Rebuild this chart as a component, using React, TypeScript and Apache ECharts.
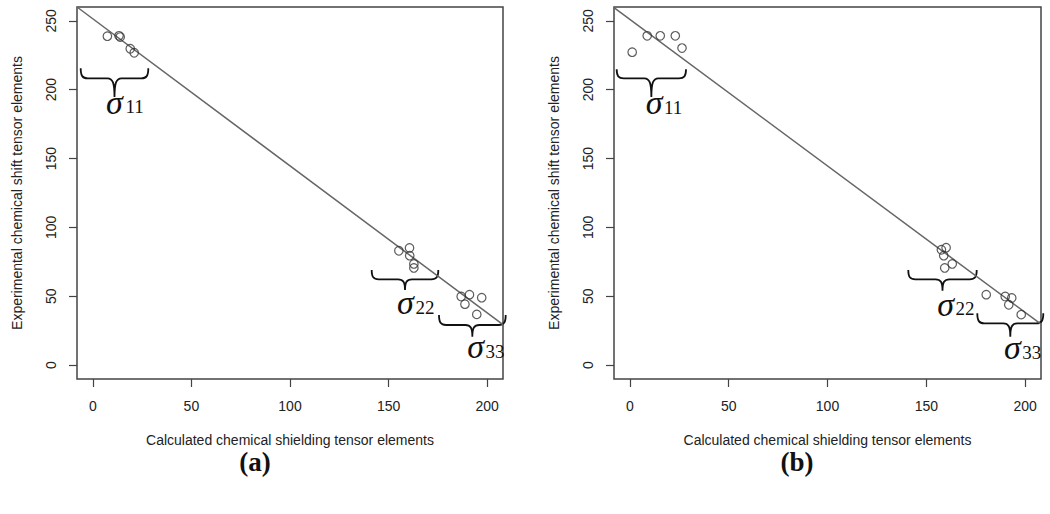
import React, { useEffect, useRef } from "react";
import * as echarts from "echarts";

// ---- data ----
const xTicks = [0, 50, 100, 150, 200];
const yTicks = [0, 50, 100, 150, 200, 250];

// panel (a)
const calcA = [7.4, 13.3, 13.9, 19.0, 21.0, 155.2, 160.6, 160.7, 162.8, 162.8, 186.8, 191.0, 188.7, 197.2, 194.7];
const exptA = [238.8, 239.1, 238.2, 229.7, 226.8, 83.1, 85.1, 79.5, 73.5, 70.6, 49.9, 51.2, 44.3, 49.0, 36.9];
// panel (b)
const calcB = [1.2, 8.8, 15.4, 23.0, 26.4, 157.6, 160.0, 158.8, 163.1, 159.3, 180.3, 189.9, 193.2, 191.7, 198.0];
const exptB = [227.2, 239.1, 239.1, 239.1, 230.2, 83.8, 85.3, 79.5, 73.5, 70.6, 51.2, 49.9, 48.8, 43.9, 36.7];

// fitted lines (end points in data units)
const fitX = [-8, 208];
const fitYA = [260, 29.4];
const fitYB = [259.5, 29.8];

const xName = "Calculated chemical shielding tensor elements";
const yName = "Experimental chemical shift tensor elements";
const panelLabels = ["(a)", "(b)"];
const groupLabels = ["11", "22", "33", "11", "22", "33"];

// ---- layout ----
const braceLayout = [
  { x0: 80.7, x1: 148.3, top: 68.3, mid: 78.3, tipY: 97, sx: 106, subx: 125.5, base: 112.5 },
  { x0: 371.7, x1: 438.3, top: 270, mid: 279.3, tipY: 290, sx: 397, subx: 415.5, base: 313 },
  { x0: 439, x1: 505.7, top: 315, mid: 325, tipY: 336.7, sx: 467.3, subx: 485.5, base: 357 },
  { x0: 616.7, x1: 686, top: 69.3, mid: 78.3, tipY: 97, sx: 645.7, subx: 664, base: 113 },
  { x0: 908.3, x1: 976.7, top: 270, mid: 279.3, tipY: 290.7, sx: 937.3, subx: 955.5, base: 314.5 },
  { x0: 977.3, x1: 1043.3, top: 313.3, mid: 323.3, tipY: 336.7, sx: 1004, subx: 1022.3, base: 358 },
];

function braceD(w: number, up: number, down: number) {
  const tx = w / 2;
  const r = 7;
  const b = up + down;
  return (
    `M0,0 C0,${up * 0.75} ${r * 0.25},${up} ${r},${up} ` +
    `L${tx - r},${up} C${tx - r * 0.25},${up} ${tx},${up + down * 0.25} ${tx},${b} ` +
    `C${tx},${up + down * 0.25} ${tx + r * 0.25},${up} ${tx + r},${up} ` +
    `L${w - r},${up} C${w - r * 0.25},${up} ${w},${up * 0.75} ${w},0`
  );
}

braceLayout.forEach((b, i) => {
  echarts.graphic.registerShape(
    "brace" + i,
    echarts.graphic.extendPath(braceD(b.x1 - b.x0, b.mid - b.top, b.tipY - b.mid), {})
  );
});

const sans = "'Liberation Sans', Arial, Helvetica, sans-serif";
const serif = "'Liberation Serif', 'Times New Roman', serif";

function pairs(xs: number[], ys: number[]) {
  return xs.map((x, i) => [x, ys[i]]);
}

export default function App() {
  const ref = useRef<HTMLDivElement>(null);
  useEffect(() => {
    if (!ref.current) return;
    const chart = echarts.init(ref.current, undefined, { renderer: "svg" });
    const grids = [
      { left: 77, top: 7, width: 426, height: 372 },
      { left: 614, top: 7, width: 427, height: 372 },
    ];
    const xAxes = grids.map((_, i) => ({
      gridIndex: i,
      type: "value",
      position: "bottom",
      min: -8,
      max: 208,
      name: xName,
      nameLocation: "middle",
      nameGap: 54,
      nameTextStyle: { fontSize: 14, color: "#222", fontFamily: sans },
      axisLine: { show: false, onZero: false },
      axisTick: { show: true, inside: false, length: 8, customValues: xTicks, lineStyle: { color: "#444", width: 1.2 } },
      axisLabel: { customValues: xTicks, margin: 20, fontSize: 14, color: "#222", fontFamily: sans },
      splitLine: { show: false },
    }));
    const yAxes = grids.map((_, i) => ({
      gridIndex: i,
      type: "value",
      position: "left",
      min: -10,
      max: 260,
      name: yName,
      nameLocation: "middle",
      nameGap: 53,
      nameTextStyle: { fontSize: 14, color: "#222", fontFamily: sans },
      axisLine: { show: false, onZero: false },
      axisTick: { show: true, inside: false, length: 8, customValues: yTicks, lineStyle: { color: "#444", width: 1.2 } },
      axisLabel: { customValues: yTicks, rotate: 90, margin: 19, fontSize: 14, color: "#222", fontFamily: sans },
      splitLine: { show: false },
    }));
    const scatterStyle = {
      type: "scatter",
      symbol: "circle",
      symbolSize: 8.5,
      itemStyle: { color: "rgba(255,255,255,0)", borderColor: "#333", borderWidth: 1.2 },
      z: 3,
    };
    const lineStyle = {
      type: "line",
      symbol: "none",
      lineStyle: { color: "#666", width: 1.5 },
      z: 2,
    };
    const graphic: any[] = [];
    braceLayout.forEach((b, i) => {
      graphic.push({
        type: "brace" + i,
        x: b.x0,
        y: b.top,
        style: { stroke: "#111", lineWidth: 1.8, fill: "none" },
      });
      graphic.push({
        type: "text",
        x: b.sx,
        y: b.base - 10.5,
        style: { text: "σ", font: `italic 34px ${serif}`, fill: "#111", align: "left", verticalAlign: "middle" },
      });
      graphic.push({
        type: "text",
        x: b.subx,
        y: b.base - 6,
        style: { text: groupLabels[i], font: `19px ${serif}`, fill: "#111", align: "left", verticalAlign: "middle" },
      });
    });
    [255, 797].forEach((cx, i) => {
      graphic.push({
        type: "text",
        x: cx,
        y: 462,
        style: { text: panelLabels[i], font: `bold 27px ${serif}`, fill: "#111", align: "center", verticalAlign: "middle" },
      });
    });
    chart.setOption({
      animation: false,
      backgroundColor: "#fff",
      grid: grids.map((g) => ({ ...g, show: true, borderColor: "#444", borderWidth: 1.5, backgroundColor: "transparent" })),
      xAxis: xAxes,
      yAxis: yAxes,
      series: [
        { ...lineStyle, xAxisIndex: 0, yAxisIndex: 0, data: pairs(fitX, fitYA) },
        { ...lineStyle, xAxisIndex: 1, yAxisIndex: 1, data: pairs(fitX, fitYB) },
        { ...scatterStyle, xAxisIndex: 0, yAxisIndex: 0, data: pairs(calcA, exptA) },
        { ...scatterStyle, xAxisIndex: 1, yAxisIndex: 1, data: pairs(calcB, exptB) },
      ],
      graphic,
    });
    return () => chart.dispose();
  }, []);
  return (
    <div
      ref={ref}
      style={{ position: "fixed", left: 0, top: 0, width: 1050, height: 514, background: "#fff" }}
    />
  );
}
